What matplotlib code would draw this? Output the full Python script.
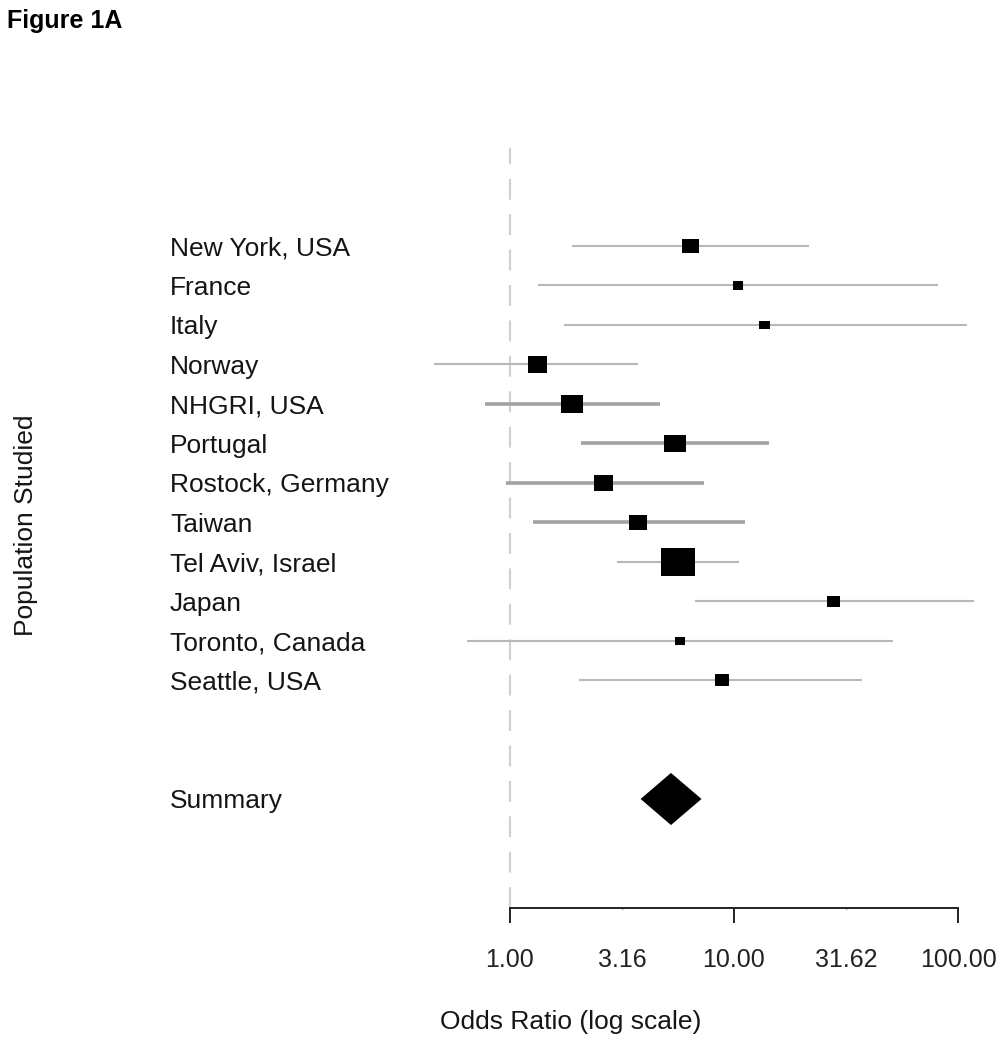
import numpy as np
import matplotlib
matplotlib.use("Agg")
import matplotlib.pyplot as plt
import matplotlib.transforms as mtransforms
from matplotlib.ticker import FixedLocator, FixedFormatter

plt.rcParams['font.family'] = ['Liberation Sans', 'DejaVu Sans']

# ---- data ----
studies = ["New York, USA", "France", "Italy", "Norway", "NHGRI, USA", "Portugal",
           "Rostock, Germany", "Taiwan", "Tel Aviv, Israel", "Japan",
           "Toronto, Canada", "Seattle, USA"]
odds_ratio = [6.41, 10.4, 13.7, 1.33, 1.89, 5.46, 2.62, 3.73, 5.61, 27.8, 5.74, 8.86]
ci_low = [1.90, 1.33, 1.74, 0.458, 0.775, 2.08, 0.963, 1.27, 2.99, 6.71, 0.643, 2.04]
ci_high = [21.6, 81.8, 110.0, 3.72, 4.67, 14.4, 7.35, 11.2, 10.5, 118.0, 51.1, 37.2]
weights = [17.4, 10.4, 10.4, 19.3, 21.5, 21.5, 19.6, 17.4, 34.0, 13.7, 10.0, 14.4]
summary_or = 5.23
summary_low = 3.83
summary_high = 7.16
major_ticks = [1.0, 10.0, 100.0]
major_labels = ["1.00", "10.00", "100.00"]
minor_ticks = [3.16, 31.62]
minor_labels = ["3.16", "31.62"]

# ---- styles ----
thick_rows = {"NHGRI, USA", "Portugal", "Rostock, Germany", "Taiwan"}

W, H, DPI = 1004, 1050, 100
fig = plt.figure(figsize=(W / DPI, H / DPI), dpi=DPI)

left_px, right_px = 420, 1000
top_px, bot_px = 148, 908
ax = fig.add_axes([left_px / W, 1 - bot_px / H, (right_px - left_px) / W, (bot_px - top_px) / H])
ax.set_xscale('log')
ax.set_xlim(10 ** ((left_px - 510) / 224), 10 ** ((right_px - 510) / 224))
ax.set_ylim(17.76, -1.48)

rows = np.arange(1, len(studies) + 1)
summary_row = len(studies) + 3

ax.axvline(1.0, color='#d0d0d0', lw=1.5, ls=(0, (10, 7)), zorder=1)

for r, s, lo, hi in zip(rows, studies, ci_low, ci_high):
    thick = s in thick_rows
    ax.plot([lo, hi], [r, r], color='#a2a2a2' if thick else '#b8b8b8',
            lw=2.6 if thick else 1.5, solid_capstyle='butt', zorder=2, clip_on=False)

aspect = 1.2
box = [(-aspect, -1), (aspect, -1), (aspect, 1), (-aspect, 1), (-aspect, -1)]
sizes = [(w * 72 / DPI) ** 2 for w in weights]
ax.scatter(odds_ratio, rows, s=sizes, marker=box, color='black', linewidths=0, zorder=3, clip_on=False)

# summary diamond
half_h = 0.66
ax.fill([summary_low, summary_or, summary_high, summary_or],
        [summary_row, summary_row - half_h, summary_row, summary_row + half_h],
        color='black', zorder=3, lw=0)

# axes styling
for sp in ['top', 'right', 'left']:
    ax.spines[sp].set_visible(False)
ax.spines['bottom'].set_bounds(1, 100)
ax.spines['bottom'].set_linewidth(1.4)
ax.spines['bottom'].set_color('#222222')
ax.set_yticks([])
ax.xaxis.set_major_locator(FixedLocator(major_ticks))
ax.xaxis.set_major_formatter(FixedFormatter(major_labels))
ax.xaxis.set_minor_locator(FixedLocator(minor_ticks))
ax.xaxis.set_minor_formatter(FixedFormatter(minor_labels))
ax.tick_params(axis='x', which='major', length=11, width=1.4, color='#222222',
               pad=18, labelsize=18, labelcolor='#222222')
ax.tick_params(axis='x', which='minor', length=1.0, width=1.0, color='#444444',
               pad=27.5, labelsize=18, labelcolor='#222222')

# row labels
trans = mtransforms.blended_transform_factory(fig.transFigure, ax.transData)
off = mtransforms.ScaledTranslation(0, -9.5 / DPI, fig.dpi_scale_trans)
for r, s in zip(rows, studies):
    ax.text(170 / W, r, s, transform=trans + off, ha='left', va='baseline',
            fontsize=19, color='#151515', clip_on=False)
ax.text(170 / W, summary_row, "Summary", transform=trans + off, ha='left', va='baseline',
        fontsize=19, color='#151515', clip_on=False)

fig.text(26 / W, 1 - 525 / H, "Population Studied", rotation=90, ha='center', va='center',
         fontsize=19, color='#151515')
fig.text(440 / W, 1 - 1022 / H, "Odds Ratio (log scale)", ha='left', va='center',
         fontsize=19, color='#151515')
fig.text(7 / W, 1 - 21 / H, "Figure 1A", ha='left', va='center', fontsize=18,
         fontweight='bold', color='black')

fig.savefig("out.png", dpi=DPI)
